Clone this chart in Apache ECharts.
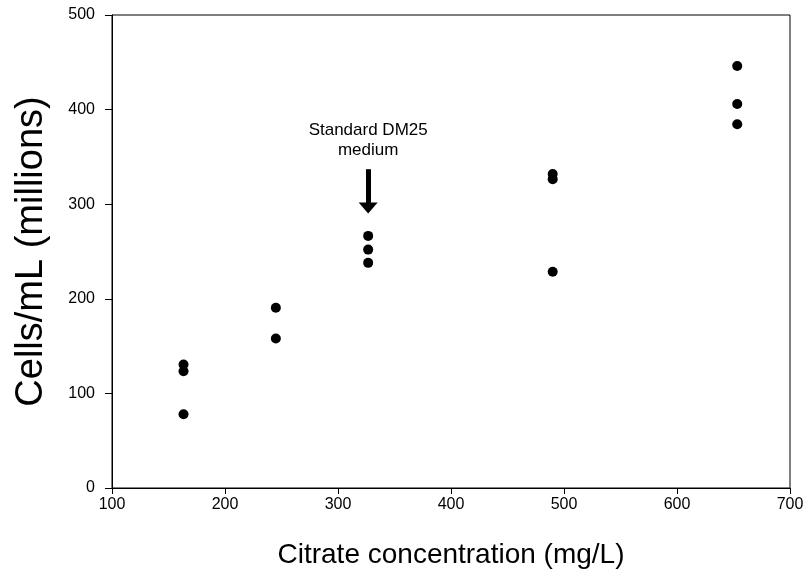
<!DOCTYPE html>
<html>
<head>
<meta charset="utf-8">
<script src="https://cdn.jsdelivr.net/npm/echarts@6/dist/echarts.min.js"></script>
<style>html,body{margin:0;padding:0;background:#fff}#c{width:808px;height:588px}</style>
</head>
<body>
<div id="c"></div>
<script>
var citrate = [163.3, 163.3, 163.3, 245, 245, 326.7, 326.7, 326.7, 490, 490, 490, 653.3, 653.3, 653.3];
var cells   = [130.5, 123.5, 78, 190.5, 158, 266.5, 252, 238, 332, 326.5, 228.5, 446, 406, 384.5];
var xTicks = [100, 200, 300, 400, 500, 600, 700];
var yTicks = [0, 100, 200, 300, 400, 500];
var annotationText = 'Standard DM25\nmedium';
var annotationX = 326.7;
var xTitle = 'Citrate concentration (mg/L)';
var yTitle = 'Cells/mL (millions)';

var chart = echarts.init(document.getElementById('c'), null, {renderer: 'canvas'});
var font = 'Liberation Sans, Arial, sans-serif';
chart.setOption({
  animation: false,
  grid: {left: 112, right: 18, top: 15, bottom: 100, show: true, borderColor: '#000', borderWidth: 1, backgroundColor: 'transparent'},
  xAxis: {
    type: 'value', min: 100, max: 700, interval: 100,
    name: xTitle, nameLocation: 'middle', nameGap: 53,
    nameTextStyle: {fontSize: 28, fontFamily: font, color: '#000'},
    axisLine: {show: true, lineStyle: {color: '#000', width: 1}},
    axisTick: {show: true, length: 6, lineStyle: {color: '#000'}},
    axisLabel: {fontSize: 16, fontFamily: font, color: '#000', margin: 9},
    splitLine: {show: false}
  },
  yAxis: {
    type: 'value', min: 0, max: 500, interval: 100,
    name: yTitle, nameLocation: 'middle', nameGap: 61,
    nameTextStyle: {fontSize: 38, fontFamily: font, color: '#000'},
    axisLine: {show: true, lineStyle: {color: '#000', width: 1}},
    axisTick: {show: true, length: 7, lineStyle: {color: '#000'}},
    axisLabel: {fontSize: 16, fontFamily: font, color: '#000', margin: 17},
    splitLine: {show: false}
  },
  series: [{
    type: 'scatter',
    data: citrate.map(function (x, i) { return [x, cells[i]]; }),
    symbol: 'circle', symbolSize: 10,
    itemStyle: {color: '#000', opacity: 1},
    markLine: {
      silent: true,
      symbol: ['none', 'triangle'],
      symbolSize: [19, 11],
      lineStyle: {color: '#000', width: 5, type: 'solid', opacity: 1},
      label: {show: false},
      data: [[{coord: [annotationX, 337]}, {coord: [annotationX, 296]}]]
    },
    markPoint: {
      silent: true,
      symbol: 'circle', symbolSize: 0,
      label: {show: true, formatter: annotationText, fontSize: 17, fontFamily: font, color: '#000', lineHeight: 20, align: 'center', verticalAlign: 'middle'},
      data: [{coord: [annotationX, 368]}]
    }
  }]
});
</script>
</body>
</html>
